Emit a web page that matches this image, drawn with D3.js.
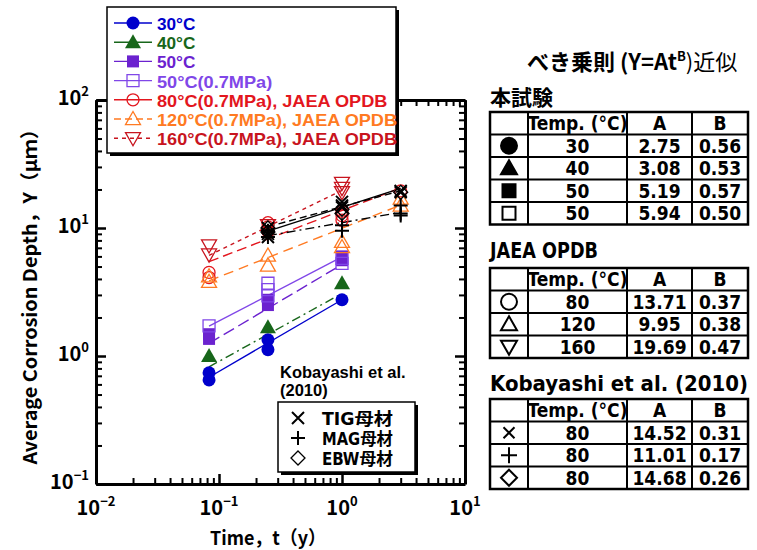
<!DOCTYPE html>
<html>
<head>
<meta charset="utf-8">
<script src="https://cdn.jsdelivr.net/npm/d3@7"></script>
<style>
body { margin: 0; background: #fff; }
</style>
</head>
<body>
<div id="chart"></div>
<script>
var width = 757;
var height = 550;

// ---- data ----
var seriesLabels = ["30°C", "40°C", "50°C", "50°C(0.7MPa)",
  "80°C(0.7MPa),  JAEA OPDB", "120°C(0.7MPa),  JAEA OPDB", "160°C(0.7MPa),  JAEA OPDB"];
var kobLabels = ["TIG母材", "MAG母材", "EBW母材"];

// measured points [t (y), depth (um)]
var pts30 = [[0.083, 0.74], [0.083, 0.65], [0.25, 1.34], [0.25, 1.12], [1, 2.75]];
var pts40 = [[0.083, 1.0], [0.25, 1.68], [1, 3.7]];
var pts50 = [[0.083, 1.48], [0.083, 1.36], [0.25, 2.75], [0.25, 2.5], [1, 6.0], [1, 5.6]];
var pts50p = [[0.083, 1.72], [0.25, 3.7], [0.25, 3.3], [0.25, 2.95], [1, 5.3], [1, 5.8]];
var pts80 = [[0.083, 4.5], [0.083, 4.1], [0.25, 11.0], [0.25, 10.2], [0.25, 9.4], [1, 13.5], [1, 12.5], [1, 11.5], [3, 19.5]];
var pts120 = [[0.083, 4.2], [0.083, 3.8], [0.25, 6.1], [0.25, 5.1], [1, 7.8], [1, 7.1], [3, 17.0], [3, 15.0]];
var pts160 = [[0.083, 7.3], [0.083, 6.2], [0.25, 10.5], [1, 22.5], [1, 20.5], [1, 19.0]];
var ptsTIG = [[0.25, 10.0], [0.25, 9.0], [0.25, 8.5], [1, 16.0], [1, 15.0], [1, 14.5], [3, 19.5], [3, 19.0]];
var ptsMAG = [[0.25, 9.5], [0.25, 8.5], [1, 10.5], [1, 9.5], [3, 15.0], [3, 13.0], [3, 12.5]];
var ptsEBW = [[0.25, 10.0], [0.25, 9.3], [1, 14.0], [1, 13.0], [3, 19.0]];

// power law fits Y = A t^B (table values)
var fitA = [2.75, 3.08, 5.19, 5.94, 13.71, 9.95, 19.69, 14.52, 11.01, 14.68];
var fitB = [0.56, 0.53, 0.57, 0.50, 0.37, 0.38, 0.47, 0.31, 0.17, 0.26];
var fitFrom = [0.083, 0.083, 0.083, 0.083, 0.083, 0.083, 0.083, 0.25, 0.25, 0.25];
var fitTo = [1, 1, 1, 1, 3, 3, 1, 3, 3, 3];

var tempsOurs = [30, 40, 50, 50];
var tempsJaea = [80, 120, 160];
var tempsKob = [80, 80, 80];

var xMajor = [0.01, 0.1, 1, 10];
var yMajor = [0.1, 1, 10, 100];

var allPts = [pts30, pts40, pts50, pts50p, pts80, pts120, pts160, ptsTIG, ptsMAG, ptsEBW];

// ---- styles ----
var sty = [
  {color: "#0000cc", shape: "circle", fill: true, dash: null, r: 6.5},
  {color: "#17661a", shape: "up", fill: true, dash: "9,4,2,4", r: 8},
  {color: "#6b22cf", shape: "square", fill: true, dash: "12,5", r: 6},
  {color: "#8047e8", shape: "square", fill: false, dash: null, r: 6},
  {color: "#e3161e", shape: "circle", fill: false, dash: "10,5", r: 6},
  {color: "#ff7a22", shape: "up", fill: false, dash: "10,6", r: 7.5},
  {color: "#c8141e", shape: "down", fill: false, dash: "4,4", r: 7.5},
  {color: "#000", shape: "x", fill: false, dash: null, r: 6},
  {color: "#000", shape: "plus", fill: false, dash: "9,4,2,4", r: 7},
  {color: "#000", shape: "diamond", fill: false, dash: "7,4", r: 7}
];

var gothic = "'Noto Sans CJK JP', 'Noto Sans', sans-serif";
var narrow = "'Liberation Sans Narrow', 'DejaVu Sans Condensed', 'Liberation Sans', 'Noto Sans CJK JP', sans-serif";
var plain = "'Liberation Sans', Arial, 'Noto Sans CJK JP', sans-serif";

var svg = d3.select("#chart").append("svg")
    .attr("width", width)
    .attr("height", height)
    .style("font-family", gothic);

var plot = {left: 96, right: 465, top: 100, bottom: 484};

var x = d3.scaleLog().domain([0.01, 10]).range([plot.left, plot.right]);
var y = d3.scaleLog().domain([0.1, 100]).range([plot.bottom, plot.top]);

// half-width cell count, used to mimic the fixed pitch gothic font
var cells = function(str){
  var n = 0;
  for (var c of str) n += c.charCodeAt(0) > 0xff ? 2 : 1;
  return n;
};

var markerPath = function(shape, r){
  var p = d3.path();
  if (shape == "circle") { p.moveTo(r, 0); p.arc(0, 0, r, 0, 2 * Math.PI); p.closePath(); }
  else if (shape == "square") { p.rect(-r, -r, 2 * r, 2 * r); }
  else if (shape == "up") { p.moveTo(0, -r); p.lineTo(r, r * 0.75); p.lineTo(-r, r * 0.75); p.closePath(); }
  else if (shape == "down") { p.moveTo(0, r); p.lineTo(r, -r * 0.75); p.lineTo(-r, -r * 0.75); p.closePath(); }
  else if (shape == "diamond") { p.moveTo(0, -r); p.lineTo(r, 0); p.lineTo(0, r); p.lineTo(-r, 0); p.closePath(); }
  else if (shape == "x") { p.moveTo(-r, -r); p.lineTo(r, r); p.moveTo(-r, r); p.lineTo(r, -r); }
  else if (shape == "plus") { p.moveTo(-r, 0); p.lineTo(r, 0); p.moveTo(0, -r); p.lineTo(0, r); }
  return p.toString();
};

var drawMarker = function(g, s, cx, cy, color, r, sw){
  var stroked = !s.fill;
  g.append("path")
    .attr("transform", "translate(" + cx + "," + cy + ")")
    .attr("d", markerPath(s.shape, r || s.r))
    .attr("fill", s.fill ? color : "none")
    .attr("stroke", color)
    .attr("stroke-width", sw || ((s.shape == "x" || s.shape == "plus") ? 2 : (stroked ? 1.3 : 0)));
};

// ---- axes (ticks inward on all four sides) ----
var minors = function(dom){
  var out = [];
  for (var e = Math.log10(dom[0]); e < Math.log10(dom[1]); e++)
    for (var k = 2; k <= 9; k++) out.push(k * Math.pow(10, e));
  return out;
};

var axisG = svg.append("g").attr("class", "axes");
var axes = [
  [d3.axisBottom(x), "translate(0," + plot.bottom + ")", xMajor, minors(x.domain())],
  [d3.axisTop(x), "translate(0," + plot.top + ")", xMajor, minors(x.domain())],
  [d3.axisLeft(y), "translate(" + plot.left + ",0)", yMajor, minors(y.domain())],
  [d3.axisRight(y), "translate(" + plot.right + ",0)", yMajor, minors(y.domain())]
];
axes.forEach(function(a){
  var gMaj = axisG.append("g").attr("transform", a[1])
    .call(a[0].tickValues(a[2]).tickSize(-10).tickSizeOuter(0).tickFormat(""));
  gMaj.select(".domain").attr("stroke-width", 3);
  gMaj.selectAll(".tick line").attr("stroke-width", 2.5);
  var gMin = axisG.append("g").attr("transform", a[1])
    .call(a[0].tickValues(a[3]).tickSize(-6).tickSizeOuter(0).tickFormat(""));
  gMin.select(".domain").remove();
  gMin.selectAll(".tick line").attr("stroke-width", 2);
});

// tick labels 10^n
var expo = function(d){ return String(Math.round(Math.log10(d))).replace("-", "−"); };

var yLab = svg.append("g").selectAll("text").data(yMajor).enter().append("text")
    .attr("x", plot.left - 7)
    .attr("y", function(d){ return y(d) + 5; })
    .attr("text-anchor", "end")
    .attr("font-size", 20)
    .attr("font-weight", "bold");
yLab.append("tspan").text("10");
yLab.append("tspan").attr("font-size", 13).attr("dy", -9).text(expo);

var xLab = svg.append("g").selectAll("text").data(xMajor).enter().append("text")
    .attr("x", function(d){ return x(d); })
    .attr("y", plot.bottom + 31)
    .attr("text-anchor", "middle")
    .attr("font-size", 20)
    .attr("font-weight", "bold");
xLab.append("tspan").text("10");
xLab.append("tspan").attr("font-size", 13).attr("dy", -9).text(expo);

// axis titles
var xTitle = "Time，t（y）";
svg.append("text")
    .attr("x", 268).attr("y", 545)
    .attr("text-anchor", "middle")
    .attr("font-size", 19).attr("font-weight", "bold")
    .attr("textLength", 116).attr("lengthAdjust", "spacingAndGlyphs")
    .text(xTitle);

var yTitle = "Average Corrosion Depth，Y（μｍ）";
svg.append("text")
    .attr("transform", "translate(37,292) rotate(-90)")
    .attr("text-anchor", "middle")
    .attr("font-size", 19).attr("font-weight", "bold")
    .attr("textLength", 345).attr("lengthAdjust", "spacingAndGlyphs")
    .text(yTitle);

// ---- fit lines ----
var line = d3.line().x(function(d){ return x(d[0]); }).y(function(d){ return y(d[1]); });
var linesG = svg.append("g");
fitA.forEach(function(A, i){
  var ends = [fitFrom[i], fitTo[i]].map(function(t){ return [t, A * Math.pow(t, fitB[i])]; });
  linesG.append("path")
    .attr("d", line(ends))
    .attr("fill", "none")
    .attr("stroke", sty[i].color)
    .attr("stroke-width", 1.4)
    .attr("stroke-dasharray", sty[i].dash);
});

// ---- markers ----
var markG = svg.append("g");
allPts.forEach(function(pts, i){
  pts.forEach(function(d){
    drawMarker(markG, sty[i], x(d[0]), y(d[1]), sty[i].color);
  });
});

// ---- main legend ----
var legend = svg.append("g");
legend.append("rect").attr("x", 110).attr("y", 10).attr("width", 289).attr("height", 146).attr("fill", "#000");
legend.append("rect").attr("x", 107).attr("y", 7).attr("width", 289).attr("height", 146)
    .attr("fill", "#fff").attr("stroke", "#000").attr("stroke-width", 1.5);
seriesLabels.forEach(function(lab, i){
  var ry = 23 + i * 19.2;
  legend.append("line").attr("x1", 114).attr("x2", 152).attr("y1", ry).attr("y2", ry)
    .attr("stroke", sty[i].color).attr("stroke-width", 1.4)
    .attr("stroke-dasharray", i == 6 ? "4,4" : (i == 5 ? "7,4" : null));
  drawMarker(legend, sty[i], 133, ry, sty[i].color);
  legend.append("text")
    .attr("x", 157).attr("y", ry + 7)
    .attr("font-family", plain)
    .attr("font-size", 17).attr("font-weight", "bold")
    .attr("fill", sty[i].color)
    .attr("textLength", cells(lab) * 9.6).attr("lengthAdjust", "spacingAndGlyphs")
    .text(lab);
});

// ---- Kobayashi annotation + legend inside plot ----
svg.append("text").attr("x", 280).attr("y", 378)
    .attr("font-family", plain)
    .attr("font-size", 16.5).attr("font-weight", "bold").text("Kobayashi et al.");
svg.append("text").attr("x", 280).attr("y", 396)
    .attr("font-family", plain)
    .attr("font-size", 16.5).attr("font-weight", "bold").text("(2010)");
var kl = svg.append("g");
kl.append("rect").attr("x", 281).attr("y", 405).attr("width", 137).attr("height", 70).attr("fill", "#000");
kl.append("rect").attr("x", 278).attr("y", 402).attr("width", 137).attr("height", 70)
    .attr("fill", "#fff").attr("stroke", "#000").attr("stroke-width", 1.5);
kobLabels.forEach(function(lab, i){
  var ry = 418 + i * 20;
  drawMarker(kl, sty[7 + i], 298, ry, "#000");
  kl.append("text").attr("x", 322).attr("y", ry + 7)
    .attr("font-family", narrow)
    .attr("font-size", 17).attr("font-weight", "bold")
    .attr("textLength", 71).attr("lengthAdjust", "spacingAndGlyphs")
    .text(lab);
});

// ---- right side: fit tables ----
var side = svg.append("g");
var ttl = side.append("text").attr("x", 527).attr("y", 70).attr("font-size", 22);
ttl.append("tspan").attr("font-weight", "bold").text("べき乗則 (Y=At");
ttl.append("tspan").attr("font-size", 13).attr("dy", -9).attr("font-weight", "bold").text("B");
ttl.append("tspan").attr("dy", 9).text(")近似");

var colX = [490, 528, 627, 692, 748];
var rowH = 22.5;
var drawTable = function(title, titleY, titleLen, top, temps, offset, shapes, fills){
  side.append("text").attr("x", 490).attr("y", titleY)
    .attr("font-family", title.charCodeAt(0) > 0xff ? gothic : narrow)
    .attr("font-size", 21).attr("font-weight", "bold")
    .attr("textLength", titleLen).attr("lengthAdjust", "spacingAndGlyphs")
    .text(title);
  var nRows = temps.length + 1;
  var tg = side.append("g");
  tg.append("rect").attr("x", colX[0]).attr("y", top)
    .attr("width", colX[4] - colX[0]).attr("height", nRows * rowH)
    .attr("fill", "none").attr("stroke", "#000").attr("stroke-width", 2.5);
  for (var r = 1; r < nRows; r++)
    tg.append("line").attr("x1", colX[0]).attr("x2", colX[4]).attr("y1", top + r * rowH).attr("y2", top + r * rowH)
      .attr("stroke", "#000").attr("stroke-width", 2);
  for (var c = 1; c < 4; c++)
    tg.append("line").attr("x1", colX[c]).attr("x2", colX[c]).attr("y1", top).attr("y2", top + nRows * rowH)
      .attr("stroke", "#000").attr("stroke-width", 2);
  var cellText = function(str, col, row){
    tg.append("text")
      .attr("x", (colX[col] + colX[col + 1]) / 2)
      .attr("y", top + row * rowH + rowH / 2 + 7)
      .attr("text-anchor", "middle")
      .attr("font-family", narrow)
      .attr("font-size", 19).attr("font-weight", "bold")
      .text(str);
  };
  cellText("Temp. (°C)", 1, 0);
  cellText("A", 2, 0);
  cellText("B", 3, 0);
  temps.forEach(function(t, i){
    var cy = top + (i + 1) * rowH + rowH / 2;
    var sh = shapes[i];
    drawMarker(tg, {shape: sh, fill: fills[i], r: 7}, (colX[0] + colX[1]) / 2, cy, "#000",
      sh == "square" ? 6.5 : (sh == "x" ? 5.5 : 8), 2);
    cellText(String(t), 1, i + 1);
    cellText(fitA[offset + i].toFixed(2), 2, i + 1);
    cellText(fitB[offset + i].toFixed(2), 3, i + 1);
  });
};
drawTable("本試験", 105, 63, 112, tempsOurs, 0,
  ["circle", "up", "square", "square"], [true, true, true, false]);
drawTable("JAEA OPDB", 258, 108, 268, tempsJaea, 4,
  ["circle", "up", "down"], [false, false, false]);
drawTable("Kobayashi et al. (2010)", 391, 258, 399, tempsKob, 7,
  ["x", "plus", "diamond"], [false, false, false]);
</script>
</body>
</html>
